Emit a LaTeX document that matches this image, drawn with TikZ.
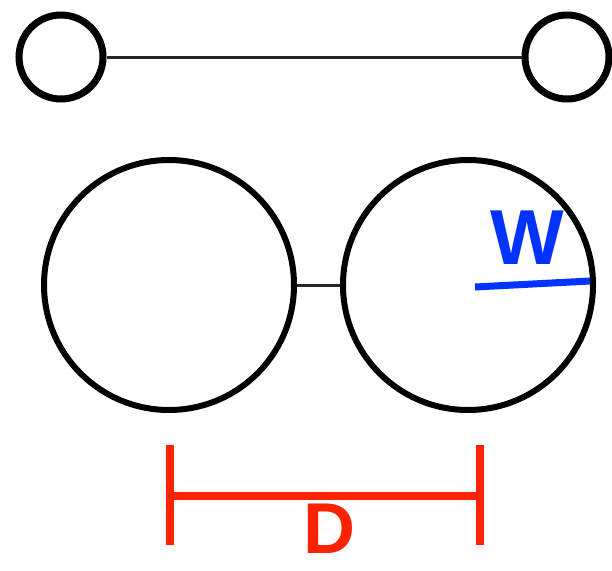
\documentclass[tikz,border=0pt]{standalone}
\usepackage{fontspec}
\setmainfont{Liberation Sans}
\definecolor{wblue}{HTML}{0033FF}
\definecolor{dred}{HTML}{FF2200}
\begin{document}
\begin{tikzpicture}[x=1pt,y=-1pt,
  smallball/.style={circle,draw=black,line width=7pt,minimum size=84pt,inner sep=0pt},
  bigball/.style={circle,draw=black,line width=6pt,minimum size=250pt,inner sep=0pt},
  link/.style={draw=black!85,line width=3pt},
  wline/.style={draw=wblue,line width=7pt},
  dline/.style={draw=dred,line width=8pt},
  lbl/.style={font=\fontsize{78}{78}\selectfont\bfseries,inner sep=0pt}]
\useasboundingbox (0,0) rectangle (612,570);
\node[smallball] (s1) at (61,57) {};
\node[smallball] (s2) at (567,57) {};
\draw[link] (s1) -- (s2);
\node[bigball] (b1) at (169,285) {};
\node[bigball] (b2) at (468,285) {};
\draw[link] (b1) -- (b2);
\coordinate (wa) at (475,287);
\coordinate (wb) at (590,281);
\draw[wline] (wa) -- (wb);
\node[lbl,text=wblue] (W) at (527,238) {W};
\coordinate (l1) at (170,445);
\coordinate (l2) at (170,545);
\coordinate (r1) at (480,445);
\coordinate (r2) at (480,545);
\coordinate (lm) at (170,496);
\coordinate (rm) at (480,496);
\draw[dline] (l1) -- (l2);
\draw[dline] (r1) -- (r2);
\draw[dline] (lm) -- (rm);
\node[font=\fontsize{72}{72}\selectfont\bfseries,inner sep=0pt,text=dred,anchor=base] (D) at (329,553) {D};
\end{tikzpicture}
\end{document}
